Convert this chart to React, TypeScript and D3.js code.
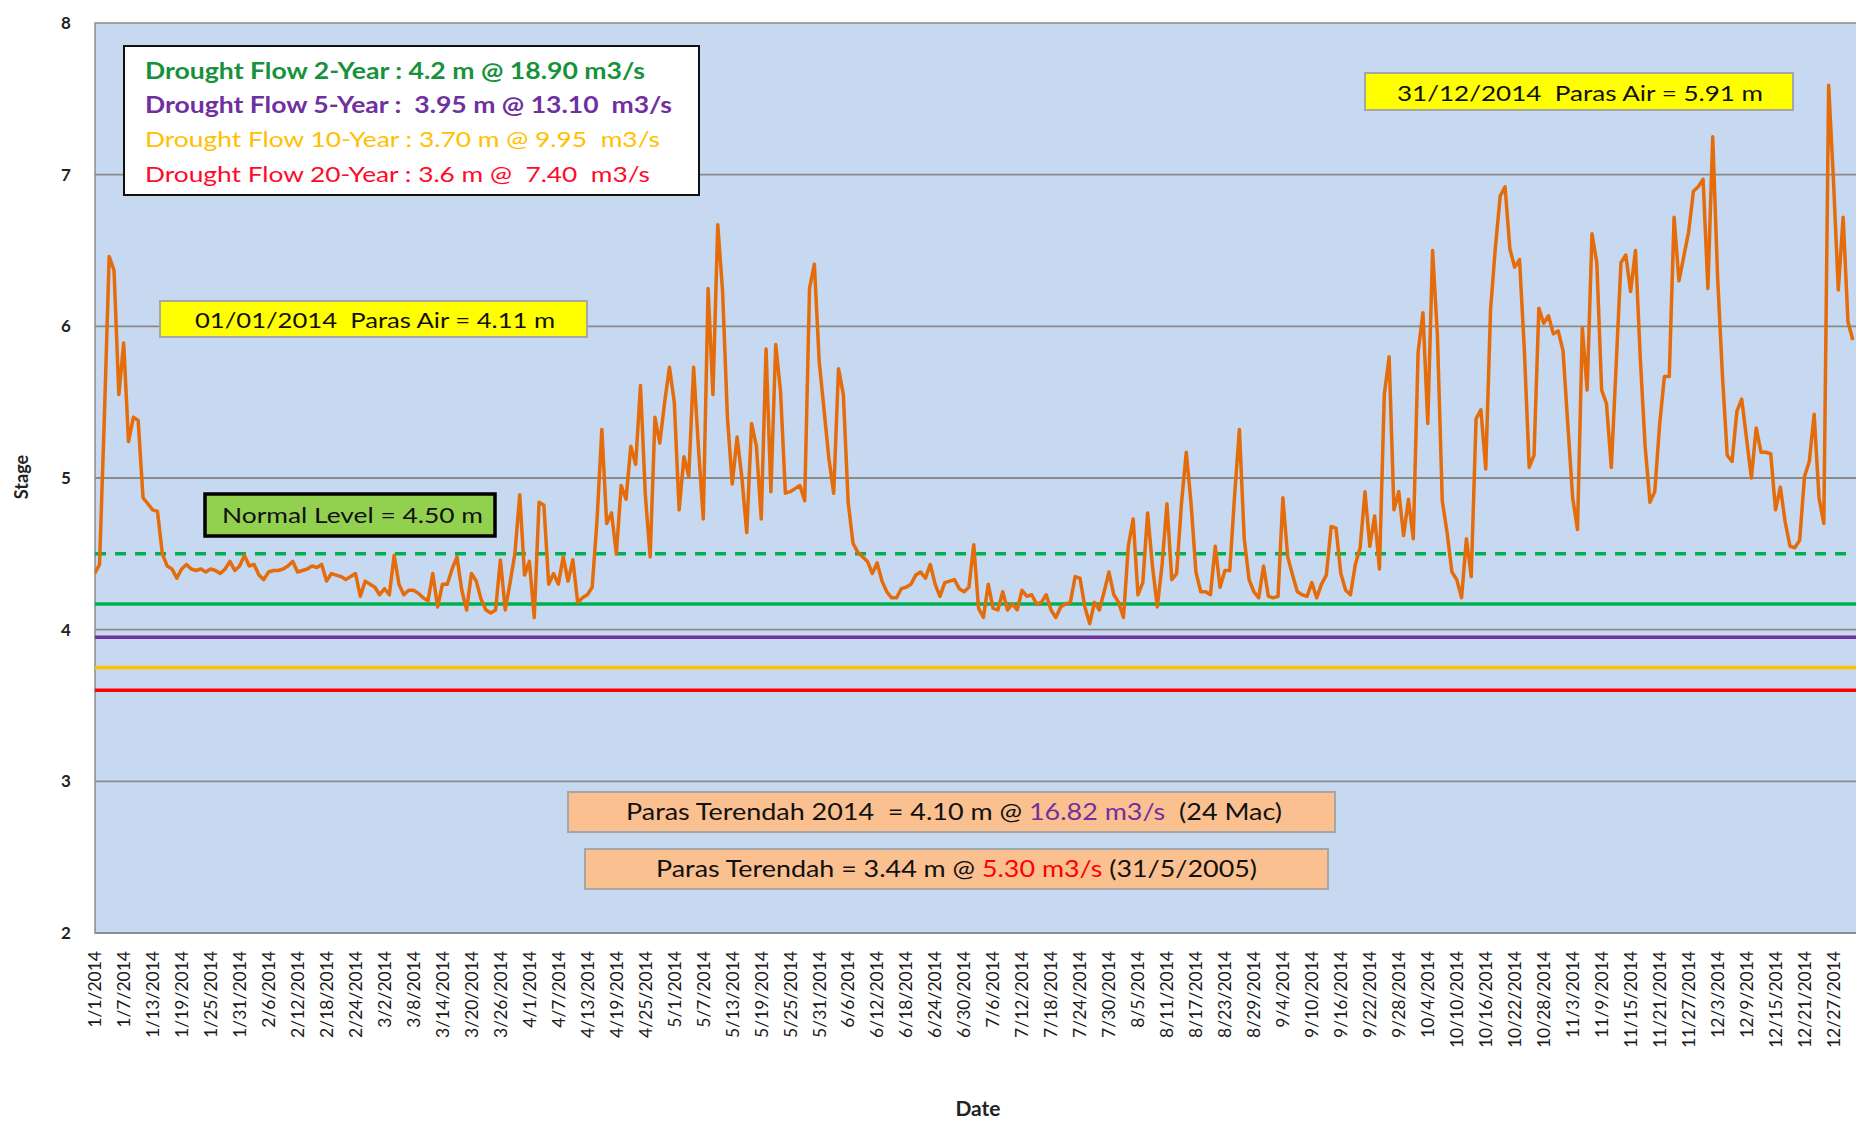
import React from "react";
import * as d3 from "d3";

const W = 1856;
const H = 1121;

// Daily stage (m), 2014, read month by month
const jan = [4.37, 4.43, 5.40, 6.46, 6.37, 5.55, 5.89, 5.24, 5.40, 5.38, 4.87, 4.83, 4.79, 4.78, 4.50, 4.42, 4.40, 4.34, 4.40, 4.43, 4.40, 4.39, 4.40, 4.38, 4.40, 4.39, 4.37, 4.40, 4.45, 4.39, 4.42];
const feb = [4.49, 4.42, 4.43, 4.36, 4.33, 4.38, 4.39, 4.39, 4.40, 4.42, 4.45, 4.38, 4.39, 4.40, 4.42, 4.41, 4.43, 4.32, 4.37, 4.36, 4.35, 4.33, 4.35, 4.37, 4.22, 4.32, 4.30, 4.28];
const mar = [4.23, 4.27, 4.23, 4.49, 4.30, 4.23, 4.26, 4.26, 4.24, 4.21, 4.19, 4.37, 4.15, 4.30, 4.30, 4.40, 4.48, 4.26, 4.13, 4.37, 4.32, 4.20, 4.13, 4.11, 4.13, 4.46, 4.13, 4.31, 4.50, 4.89, 4.36];
const apr = [4.45, 4.08, 4.84, 4.82, 4.30, 4.37, 4.30, 4.48, 4.32, 4.46, 4.18, 4.21, 4.23, 4.28, 4.72, 5.32, 4.70, 4.77, 4.50, 4.95, 4.86, 5.21, 5.09, 5.61, 4.89, 4.48, 5.40, 5.23, 5.50, 5.73];
const may = [5.50, 4.79, 5.14, 5.01, 5.73, 5.20, 4.73, 6.25, 5.55, 6.67, 6.23, 5.40, 4.96, 5.27, 5.00, 4.64, 5.36, 5.21, 4.73, 5.85, 4.91, 5.88, 5.57, 4.90, 4.91, 4.93, 4.95, 4.85, 6.25, 6.41, 5.77];
const jun = [5.45, 5.13, 4.90, 5.72, 5.55, 4.84, 4.57, 4.51, 4.48, 4.45, 4.37, 4.44, 4.32, 4.25, 4.21, 4.21, 4.27, 4.28, 4.30, 4.36, 4.38, 4.34, 4.43, 4.30, 4.22, 4.31, 4.32, 4.33, 4.27, 4.25];
const jul = [4.28, 4.56, 4.14, 4.08, 4.30, 4.14, 4.13, 4.25, 4.13, 4.17, 4.13, 4.26, 4.22, 4.23, 4.17, 4.18, 4.23, 4.13, 4.08, 4.15, 4.17, 4.18, 4.35, 4.34, 4.15, 4.04, 4.18, 4.13, 4.25, 4.38, 4.23];
const aug = [4.18, 4.08, 4.55, 4.73, 4.23, 4.31, 4.77, 4.42, 4.15, 4.43, 4.83, 4.33, 4.37, 4.83, 5.17, 4.83, 4.38, 4.25, 4.25, 4.23, 4.55, 4.28, 4.39, 4.39, 4.88, 5.32, 4.60, 4.33, 4.25, 4.21, 4.42];
const sep = [4.22, 4.21, 4.22, 4.87, 4.48, 4.36, 4.25, 4.23, 4.22, 4.31, 4.21, 4.30, 4.36, 4.68, 4.67, 4.37, 4.26, 4.23, 4.43, 4.54, 4.91, 4.55, 4.75, 4.40, 5.55, 5.80, 4.79, 4.91, 4.62, 4.86];
const oct = [4.60, 5.83, 6.09, 5.36, 6.50, 5.94, 4.85, 4.64, 4.38, 4.33, 4.21, 4.60, 4.35, 5.39, 5.45, 5.06, 6.11, 6.52, 6.86, 6.92, 6.51, 6.39, 6.44, 5.84, 5.07, 5.15, 6.12, 6.02, 6.07, 5.95, 5.97];
const nov = [5.84, 5.35, 4.87, 4.66, 5.99, 5.58, 6.61, 6.42, 5.58, 5.49, 5.07, 5.74, 6.42, 6.47, 6.23, 6.50, 5.79, 5.21, 4.84, 4.91, 5.35, 5.67, 5.67, 6.72, 6.30, 6.46, 6.62, 6.89, 6.92, 6.97];
const dec = [6.25, 7.25, 6.33, 5.68, 5.15, 5.11, 5.44, 5.52, 5.26, 5.00, 5.33, 5.17, 5.17, 5.16, 4.79, 4.94, 4.71, 4.55, 4.54, 4.59, 5.01, 5.11, 5.42, 4.87, 4.70, 7.59, 6.96, 6.24, 6.72, 6.03, 5.91];

const yTicks = [2, 3, 4, 5, 6, 7, 8];
const labelEvery = 6;

// Drought / normal reference levels (m)
const refLevels = [4.5, 4.17, 3.95, 3.75, 3.6];
const refColors = ["#00B050", "#00B050", "#7030A0", "#FFC000", "#FF0000"];
const refDashed = [true, false, false, false, false];

const legendLines = [
  "Drought Flow 2-Year : 4.2 m @ 18.90 m3/s",
  "Drought Flow 5-Year :  3.95 m @ 13.10  m3/s",
  "Drought Flow 10-Year : 3.70 m @ 9.95  m3/s",
  "Drought Flow 20-Year : 3.6 m @  7.40  m3/s",
];
const legendColors = ["#17923C", "#7030A0", "#FFC000", "#FF0A2A"];
const legendBold = [true, true, false, false];

const FONT = "Lato, 'Open Sans', 'Liberation Sans', sans-serif";

export default function App() {
  const values = [...jan, ...feb, ...mar, ...apr, ...may, ...jun, ...jul, ...aug, ...sep, ...oct, ...nov, ...dec];
  const dates = d3.timeDay.range(new Date(2014, 0, 1), new Date(2015, 0, 1));
  const fmt = d3.timeFormat("%-m/%-d/%Y");

  const plotL = 95;
  const plotT = 23;
  const plotB = 933;
  const x = d3.scaleLinear().domain([0, dates.length - 1]).range([94.7, 1852.8]);
  const y = d3.scaleLinear().domain([2, 8]).range([plotB, plotT]);

  const line = d3
    .line<number>()
    .x((_, i) => x(i))
    .y((d) => y(d));

  const labelIdx = dates.map((_, i) => i).filter((i) => i % labelEvery === 0);

  return (
    <svg
      width={W}
      height={H}
      style={{ position: "absolute", left: 0, top: 0, display: "block", background: "#fff" }}
      fontFamily={FONT}
    >
      <defs>
        <clipPath id="plotclip">
          <rect x={plotL} y={plotT} width={W - plotL + 10} height={plotB - plotT} />
        </clipPath>
      </defs>
      <rect x={0} y={0} width={W} height={H} fill="#fff" />
      {/* plot area */}
      <rect x={plotL} y={plotT} width={W - plotL + 20} height={plotB - plotT} fill="#C6D9F1" stroke="#8C8C8C" strokeWidth={1.5} />

      {/* gridlines */}
      {yTicks.slice(1, -1).map((t) => (
        <line key={t} x1={plotL} x2={W + 5} y1={y(t)} y2={y(t)} stroke="#8A8A8A" strokeWidth={1.8} />
      ))}
      <line x1={plotL} x2={W + 5} y1={plotB} y2={plotB} stroke="#8C8C8C" strokeWidth={2} />

      {/* y tick labels */}
      {yTicks.map((t) => (
        <text key={t} x={66} y={y(t)} dy="0.36em" textAnchor="middle" fontSize={17} fontWeight={700} fill="#222">
          {t}
        </text>
      ))}
      <text transform={`translate(22,477) rotate(-90)`} textAnchor="middle" dy="0.35em" fontSize={18} fontWeight={700} fill="#222">
        Stage
      </text>

      {/* x tick labels */}
      {labelIdx.map((i) => (
        <text
          key={i}
          transform={`translate(${x(i)},951) rotate(-90)`}
          textAnchor="end"
          dy="0.36em"
          fontSize={17.5}
          fill="#1a1a1a"
        >
          {fmt(dates[i])}
        </text>
      ))}
      <text x={978} y={1109} dy="0.35em" textAnchor="middle" fontSize={21} fontWeight={700} fill="#222">
        Date
      </text>

      {/* reference levels */}
      <g clipPath="url(#plotclip)">
        {refLevels.map((v, i) => (
          <line
            key={i}
            x1={plotL}
            x2={refDashed[i] ? x(dates.length - 1) : W + 5}
            y1={y(v)}
            y2={y(v)}
            stroke={refColors[i]}
            strokeWidth={3.5}
            strokeDasharray={refDashed[i] ? "11,9" : undefined}
          />
        ))}
        <path d={line(values) || ""} fill="none" stroke="#E46C0A" strokeWidth={3.5} strokeLinejoin="round" />
      </g>

      {/* legend box */}
      <rect x={124} y={46} width={575} height={149} fill="#fff" stroke="#111" strokeWidth={2} />
      {legendLines.map((s, i) => (
        <text
          key={i}
          x={145}
          y={71 + i * 34.3}
          dy="0.35em"
          fontSize={22}
          fontWeight={legendBold[i] ? 700 : 400}
          fill={legendColors[i]}
          style={{ whiteSpace: "pre" }}
          textLength={[500, 527, 515, 505][i]}
          lengthAdjust="spacingAndGlyphs"
        >
          {s}
        </text>
      ))}

      {/* start annotation */}
      <rect x={160} y={301} width={427} height={36} fill="#FFFF00" stroke="#A6A6A6" strokeWidth={2} />
      <text x={195} y={320} dy="0.35em" fontSize={22} fill="#111" style={{ whiteSpace: "pre" }} textLength={360} lengthAdjust="spacingAndGlyphs">
        {"01/01/2014  Paras Air = 4.11 m"}
      </text>

      {/* end annotation */}
      <rect x={1365} y={73} width={428} height={37} fill="#FFFF00" stroke="#A6A6A6" strokeWidth={2} />
      <text x={1397} y={93} dy="0.35em" fontSize={22} fill="#111" style={{ whiteSpace: "pre" }} textLength={366} lengthAdjust="spacingAndGlyphs">
        {"31/12/2014  Paras Air = 5.91 m"}
      </text>

      {/* normal level */}
      <rect x={205} y={494} width={290} height={42} fill="#92D050" stroke="#000" strokeWidth={3.5} />
      <text x={222} y={515} dy="0.35em" fontSize={22} fill="#111" textLength={261} lengthAdjust="spacingAndGlyphs">
        Normal Level = 4.50 m
      </text>

      {/* lowest levels */}
      <rect x={568} y={792} width={767} height={40} fill="#FAC090" stroke="#A6A6A6" strokeWidth={2} />
      <text x={626} y={812} dy="0.35em" fontSize={23} fill="#111" style={{ whiteSpace: "pre" }} textLength={656} lengthAdjust="spacingAndGlyphs">
        <tspan>{"Paras Terendah 2014  = 4.10 m @ "}</tspan>
        <tspan fill="#7030A0">{"16.82 m3/s"}</tspan>
        <tspan>{"  (24 Mac)"}</tspan>
      </text>
      <rect x={585} y={849} width={743} height={40} fill="#FAC090" stroke="#A6A6A6" strokeWidth={2} />
      <text x={656} y={869} dy="0.35em" fontSize={23} fill="#111" style={{ whiteSpace: "pre" }} textLength={601} lengthAdjust="spacingAndGlyphs">
        <tspan>{"Paras Terendah = 3.44 m @ "}</tspan>
        <tspan fill="#FF0000">{"5.30 m3/s"}</tspan>
        <tspan>{" (31/5/2005)"}</tspan>
      </text>
    </svg>
  );
}
